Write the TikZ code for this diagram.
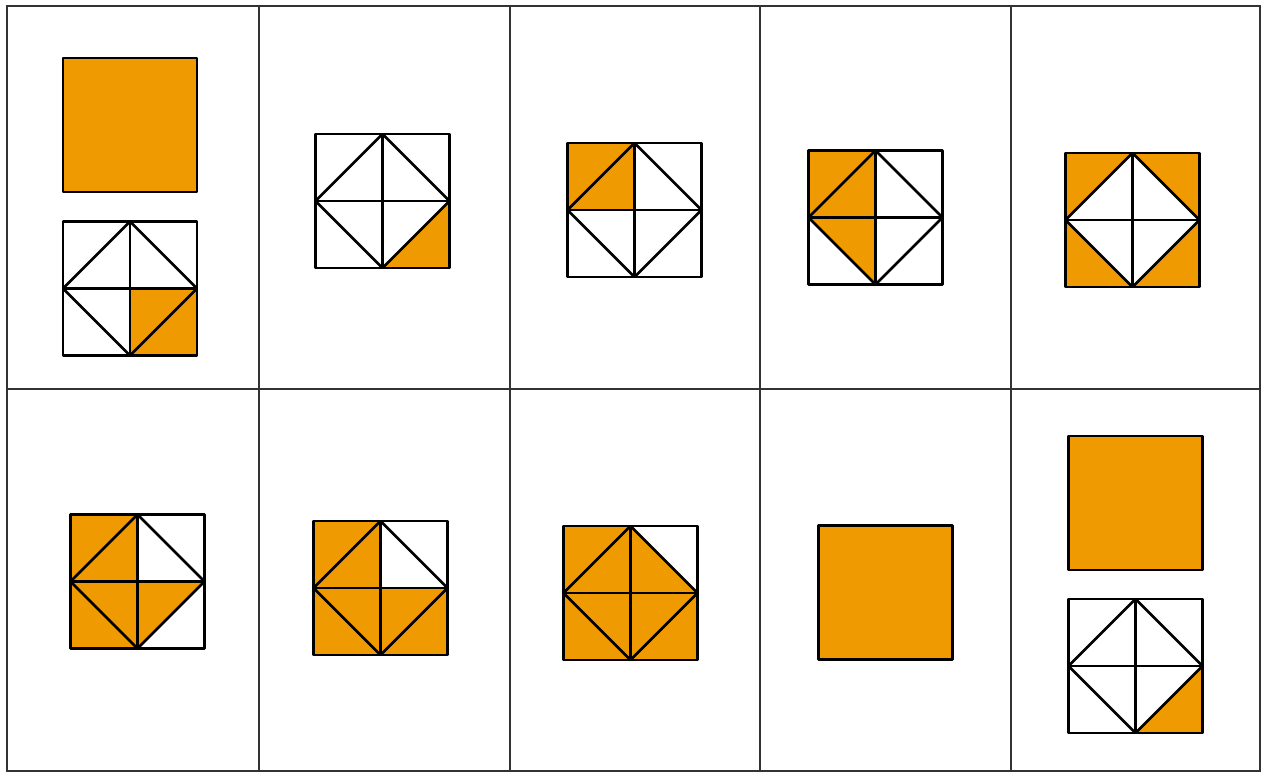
\documentclass[tikz,border=0pt]{standalone}
\usepackage{tikz}
\definecolor{tileorange}{HTML}{EE9A00}
\definecolor{gridgray}{HTML}{333333}
\newcommand{\fractile}[3]{%
  \begin{scope}[shift={(#1,#2)},scale=67,yscale=-1]
    \foreach \sx/\sy/\cc in {#3}
      \fill[part] (\cc*\sx,\cc*\sy) -- (0,\sy) -- (\sx,0) -- cycle;
    \draw[edge] (-1,-1) rectangle (1,1);
    \draw[edge] (-1,0) -- (1,0) (0,-1) -- (0,1);
    \draw[edge] (-1,0) -- (0,1) -- (1,0) -- (0,-1) -- cycle;
  \end{scope}}
\newcommand{\wholetile}[2]{%
  \begin{scope}[shift={(#1,#2)},scale=67]
    \draw[edge,fill=tileorange] (-1,-1) rectangle (1,1);
  \end{scope}}

\begin{document}
\begin{tikzpicture}[x=0.02cm,y=-0.02cm,
  part/.style={fill=tileorange},
  edge/.style={draw=black,line width=1.5pt,line join=round},
  grid/.style={draw=gridgray,line width=1pt}]
  \useasboundingbox (0,0) rectangle (1263,773);
  \fill[white] (0,0) rectangle (1263,773);
  \draw[grid] (7,6) rectangle (1260,771);
  \foreach \x in {259,510,760,1011}
    \draw[grid] (\x,6) -- (\x,771);
  \draw[grid] (7,389) -- (1260,389);

  \wholetile{130}{125}
  \fractile{130}{288.5}{1/-1/1,1/-1/0}
  \fractile{382.5}{201}{1/-1/1}
  \fractile{634.5}{210}{-1/1/1,-1/1/0}
  \fractile{875.5}{217.5}{-1/1/1,-1/1/0,-1/-1/0}
  \fractile{1132.5}{220}{-1/1/1,1/1/1,-1/-1/1,1/-1/1}

  \fractile{137.5}{581.5}{-1/1/1,-1/1/0,-1/-1/1,-1/-1/0,1/-1/0}
  \fractile{380.5}{588}{-1/1/1,-1/1/0,-1/-1/1,-1/-1/0,1/-1/1,1/-1/0}
  \fractile{630.5}{593}{-1/1/1,-1/1/0,-1/-1/1,-1/-1/0,1/-1/1,1/-1/0,1/1/0}
  \wholetile{885.5}{592.5}
  \wholetile{1135.5}{503}
  \fractile{1135.5}{666}{1/-1/1}
\end{tikzpicture}
\end{document}
